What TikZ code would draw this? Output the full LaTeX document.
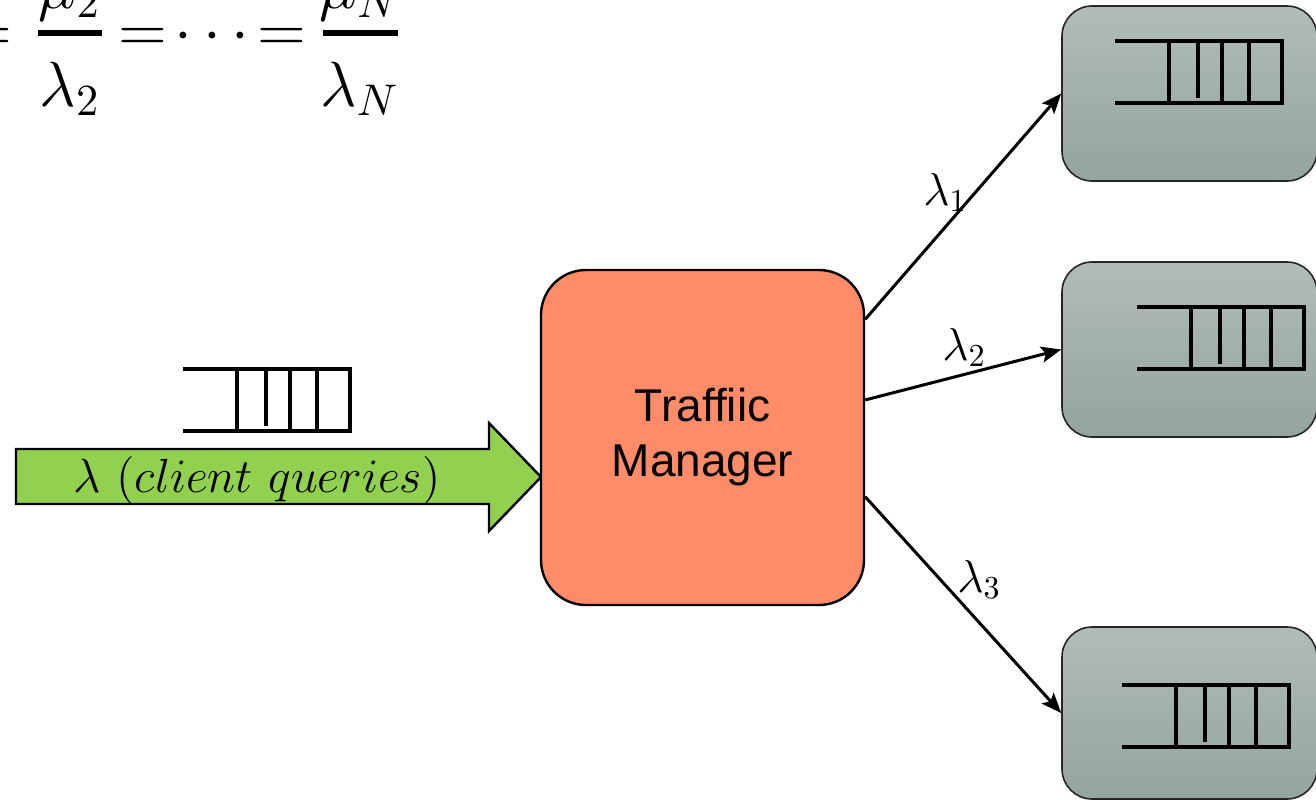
\documentclass[tikz,border=0pt]{standalone}
\usepackage{fontspec}
\newfontfamily\labelsans{Liberation Sans}
\usetikzlibrary{arrows.meta}

\definecolor{tmfill}{RGB}{255,140,105}
\definecolor{arrowgreen}{RGB}{146,208,80}
\definecolor{srvtop}{RGB}{176,188,184}
\definecolor{srvbot}{RGB}{148,164,159}

% math set at 14.4pt and magnified
\newcommand\scaledmath[2]{\scalebox{#1}{\fontsize{14.4}{17}\selectfont$#2$}}

\tikzset{
  mathbig/.style={inner sep=0pt, anchor=base},
  rate/.style={inner sep=0pt, anchor=base west},
  manager/.style={draw, line width=1.2pt, fill=tmfill, rounded corners=22.5pt,
    minimum width=161.5pt, minimum height=167.5pt, align=center,
    font=\labelsans\fontsize{23}{27.5}\selectfont, inner sep=0pt},
  server/.style={draw=black!85, line width=0.8pt, top color=srvtop, bottom color=srvbot,
    rounded corners=15pt, minimum width=127.5pt, minimum height=87.5pt, inner sep=0pt},
  flow/.style={line width=1.5pt, -{Stealth[length=10pt,width=8pt,inset=2pt]}},
  queuestroke/.style={line width=2pt},
  queue/.pic={
    \draw[queuestroke] (0,0) -- (167,0) -- (167,62) -- (0,62);
    \foreach \q in {54,107,134} \draw[queuestroke] (\q,0) -- (\q,62);
    \draw[queuestroke] (83,-2) -- (83,57);
  }
}

\begin{document}
\begin{tikzpicture}[x=0.5pt,y=-0.5pt]
\useasboundingbox (0,0) rectangle (1316,799);
\clip (0,0) rectangle (1316,799);

% balance condition across the servers
\node[mathbig] (eqa) at (-12,51) {\scaledmath{2.22}{=}};
\draw[line width=3pt] (38,33) -- (102,33);
\node[mathbig] (numa) at (70,8) {\scaledmath{2.22}{\mu_2}};
\node[mathbig] (dena) at (70,106) {\scaledmath{2.22}{\lambda_2}};
\node[mathbig] (eqb) at (143,51) {\scaledmath{2.22}{=}};
\node[mathbig] (dots) at (212,51) {\scaledmath{2.22}{\cdots}};
\node[mathbig] (eqc) at (282,51) {\scaledmath{2.22}{=}};
\draw[line width=3pt] (323,33) -- (398,33);
\node[mathbig] (numb) at (360,8) {\scaledmath{2.22}{\mu_N}};
\node[mathbig] (denb) at (360,106) {\scaledmath{2.22}{\lambda_N}};

% incoming client stream
\draw[line width=1.2pt, fill=arrowgreen] (16,449) -- (489,449) -- (489,423) -- (541,477)
  -- (489,531) -- (489,504) -- (16,504) -- cycle;
\node[inner sep=0pt, anchor=base] (inlab) at (257,492)
  {\scaledmath{1.667}{\lambda\ (client\ queries)}};
\pic at (183,369) {queue};

% dispatcher
\node[manager] (tm) at (702.5,437.5) {Traffiic\\Manager};

% servers with their queues
\node[server] (s1) at (1189.5,93.5) {};
\node[server] (s2) at (1189.5,349.5) {};
\node[server, minimum height=86pt] (s3) at (1189.5,713) {};
\pic at (1115,41) {queue};
\pic at (1137,307) {queue};
\pic at (1122,685) {queue};

% split flows
\draw[flow] (tm.36.5) -- (s1.west);
\draw[flow] (tm.13.1) -- (s2.west);
\draw[flow] (tm.-20.2) -- (s3.west);
\node[rate] (l1) at (923,205) {\scaledmath{1.6}{\lambda_1}};
\node[rate] (l2) at (942,360) {\scaledmath{1.6}{\lambda_2}};
\node[rate] (l3) at (957,592) {\scaledmath{1.6}{\lambda_3}};
\end{tikzpicture}
\end{document}
